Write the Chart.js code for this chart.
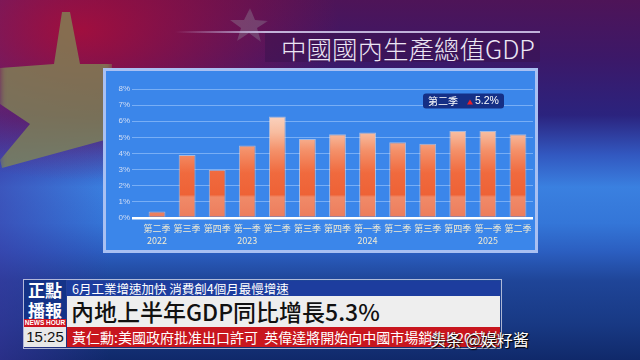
<!DOCTYPE html>
<html>
<head>
<meta charset="utf-8">
<script src="https://cdn.jsdelivr.net/npm/chart.js@4/dist/chart.umd.min.js"></script>
<style>
  html, body { margin:0; padding:0; }
  body {
    width:640px; height:360px; overflow:hidden; position:relative;
    font-family:"Noto Sans CJK TC","Noto Sans",sans-serif;
    background:
      radial-gradient(ellipse 260px 150px at 80px 30px, rgba(165,14,60,0.95), rgba(165,14,60,0) 100%),
      linear-gradient(90deg, rgba(62,52,160,0.55) 0px, rgba(62,52,160,0) 110px),
      linear-gradient(180deg, #4e1458 0%, #3c1868 16%, #2b237e 32%, #3258c0 43%, #3a80e0 52%, #3476d8 62%, #2b5ec0 70%, #1f4598 78%, #183984 90%, #10296a 100%);
  }
  .abs { position:absolute; }
  #star {
    left:0; top:0; width:112px; height:190px;
    background: rgba(128,136,84,0.78);
    clip-path: polygon(62px 12px, 70px 12px, 80px 64px, 112px 64px, 112px 138px, 2px 168px, 0px 160px, 30px 124px, 0px 104px, 0px 68px, 54px 64px);
    filter: blur(3px);
  }
  #star2 {
    left:228px; top:8px; width:40px; height:34px;
    background: rgba(150,150,160,0.35);
    clip-path: polygon(22px 0px, 27px 12px, 40px 13px, 29px 20px, 33px 34px, 21px 25px, 9px 33px, 13px 20px, 2px 12px, 16px 12px);
    filter: blur(2px);
  }
  #titleLine {
    left:175px; top:31px; width:365px; height:2px;
    background: linear-gradient(90deg, rgba(200,190,225,0) 0px, rgba(205,195,230,0.9) 90px, rgba(205,195,230,0.9) 100%);
  }
  #titleBox {
    left:265px; top:33px; width:275px; height:29px;
    background: rgba(58,18,78,0.5);
  }
  #title {
    left:281px; top:33px; font-size:25.5px; line-height:29px; color:#ece6f4;
    font-weight:300; white-space:nowrap; letter-spacing:0px;
  }
  #panel {
    left:103px; top:68px; width:429px; height:179px;
    border:3px solid #a9c0f2; background:#3b86ea;
  }
  #panel canvas { display:block; }
  #logo1 { left:24px; top:280px; width:42px; height:20px; background:#143388; color:#fff; font-weight:700; font-size:17px; line-height:20px; text-align:center; }
  #logo2 { left:24px; top:300px; width:42px; height:19px; background:#143388; color:#fff; font-weight:700; font-size:17px; line-height:19px; text-align:center; }
  #logo3 { left:24px; top:319px; width:42px; height:8px; background:#cf1420; color:#fff; font-family:"Liberation Sans",sans-serif; font-weight:700; font-size:6.5px; line-height:8px; text-align:center; white-space:nowrap; }
  #clock { left:24px; top:327px; width:42px; height:20px; background:#e8e8e8; color:#111; font-family:"Liberation Sans",sans-serif; font-size:15px; line-height:20px; text-align:center; }
  #bar1 { left:67px; top:281px; width:433px; height:15px; background:#1d3d9e; color:#fff; font-size:12.5px; line-height:15px; padding-left:5px; box-sizing:border-box; white-space:nowrap; overflow:hidden; }
  #bar2 { left:67px; top:296px; width:433px; height:31px; background:#eeeeee; color:#111; font-size:23px; line-height:31px; padding-left:4px; box-sizing:border-box; white-space:nowrap; overflow:hidden; font-weight:500; }
  #bar3 { left:67px; top:327px; width:433px; height:20px; background:#c8161e; color:#fff; font-size:14px; line-height:20px; padding-left:5px; box-sizing:border-box; white-space:nowrap; overflow:hidden; }
  #frame { left:23px; top:279px; width:477px; height:68px; border:1px solid rgba(235,235,245,0.7); }
  #wm { left:430px; top:329px; color:#fff; font-family:"Noto Sans CJK SC",sans-serif; font-size:16px; line-height:20px; text-shadow:0 0 2px #000, 1px 1px 1px #000; white-space:nowrap; }
</style>
</head>
<body>
<div id="star" class="abs"></div>
<div id="star2" class="abs"></div>
<div id="titleBox" class="abs"></div>
<div id="titleLine" class="abs"></div>
<div id="title" class="abs">中國國內生產總值GDP</div>
<div id="panel" class="abs"><canvas id="c" width="429" height="179"></canvas></div>

<div id="frame" class="abs"></div>
<div id="logo1" class="abs">正點</div>
<div id="logo2" class="abs">播報</div>
<div id="logo3" class="abs">NEWS HOUR</div>
<div id="clock" class="abs">15:25</div>
<div id="bar1" class="abs">6月工業增速加快 消費創4個月最慢增速</div>
<div id="bar2" class="abs">內地上半年GDP同比增長5.3%</div>
<div id="bar3" class="abs">黃仁勳:美國政府批准出口許可&nbsp; 英偉達將開始向中國市場銷售H20芯片</div>
<div id="wm" class="abs">头条 @娱籽酱</div>

<script>
// ---- data ----
const quarters = ['第二季','第三季','第四季','第一季','第二季','第三季','第四季','第一季','第二季','第三季','第四季','第一季','第二季'];
const years    = ['2022','','','2023','','','','2024','','','','2025',''];
const gdpGrowth = [0.4, 3.9, 3.0, 4.5, 6.3, 4.9, 5.2, 5.3, 4.7, 4.6, 5.4, 5.4, 5.2];
const yTickValues = [0, 1, 2, 3, 4, 5, 6, 7, 8];
const highlightLabel = quarters[quarters.length - 1];
const highlightValue = gdpGrowth[gdpGrowth.length - 1];

const labels = quarters.map((q, i) => [q, years[i]]);

function barFill(context) {
  const chart = context.chart;
  const area = chart.chartArea;
  if (!area || !chart.scales.y) return '#f06a40';
  const y = chart.scales.y;
  const top = y.getPixelForValue(6.5), bot = y.getPixelForValue(0);
  const g = chart.ctx.createLinearGradient(0, top, 0, bot);
  const f = v => (6.5 - v) / 6.5;
  g.addColorStop(f(6.5), '#fbd6c4');
  g.addColorStop(f(5.3), '#f8bc9f');
  g.addColorStop(f(4.2), '#f4916a');
  g.addColorStop(f(2.8), '#f06a3e');
  g.addColorStop(f(1.45), '#ee6236');
  g.addColorStop(f(1.3), '#f08a68');
  g.addColorStop(f(0), '#ec7c5c');
  return g;
}

const annotationPlugin = {
  id: 'quarterBadge',
  afterDraw(chart) {
    const ctx = chart.ctx;
    ctx.save();
    const x = 317, y = 22.5, w = 81, h = 15, r = 3;
    ctx.fillStyle = '#152f86';
    ctx.beginPath();
    ctx.roundRect(x, y, w, h, r);
    ctx.fill();
    ctx.fillStyle = '#ffffff';
    ctx.textBaseline = 'middle';
    ctx.font = '10px "Noto Sans CJK TC"';
    ctx.fillText(highlightLabel, 322, y + h / 2 + 0.5);
    ctx.fillStyle = '#e8202a';
    ctx.beginPath();
    ctx.moveTo(364, 28.5); ctx.lineTo(367, 33.5); ctx.lineTo(361, 33.5); ctx.closePath();
    ctx.fill();
    ctx.fillStyle = '#ffffff';
    ctx.font = '10.5px "Liberation Sans"';
    ctx.fillText(highlightValue.toFixed(1) + '%', 369, y + h / 2 + 0.5);
    ctx.restore();
  }
};

new Chart(document.getElementById('c'), {
  type: 'bar',
  data: {
    labels: labels,
    datasets: [{
      data: gdpGrowth,
      backgroundColor: barFill,
      borderColor: 'rgba(255,228,214,0.55)',
      borderWidth: 1,
      borderSkipped: 'bottom',
      categoryPercentage: 1,
      barPercentage: 0.56
    }]
  },
  options: {
    responsive: false,
    devicePixelRatio: 1,
    animation: false,
    layout: { padding: { top: 18, right: 2, left: 0, bottom: 0 } },
    plugins: { legend: { display: false }, tooltip: { enabled: false } },
    scales: {
      y: {
        min: 0, max: 8,
        afterBuildTicks: s => { s.ticks = yTickValues.map(v => ({ value: v })); },
        afterFit: s => { s.width = 36; },
        border: { display: false },
        grid: {
          color: c => (c.tick && c.tick.value === 0) ? '#ffffff' : '#78aef5',
          lineWidth: c => (c.tick && c.tick.value === 0) ? 2.5 : 1,
          drawTicks: true,
          tickLength: 10,
          tickColor: c => (c.tick && c.tick.value === 0) ? '#ffffff' : '#78aef5'
        },
        ticks: {
          color: '#d3def4',
          padding: 2,
          font: { family: 'Liberation Sans', size: 8 },
          callback: v => v + '%'
        }
      },
      x: {
        afterFit: s => { s.height = 32; },
        border: { display: false },
        grid: { display: false },
        ticks: {
          color: '#f2ebd2',
          padding: -4,
          autoSkip: false,
          maxRotation: 0,
          font: { family: 'Noto Sans CJK TC', size: 9, lineHeight: 1.4 }
        }
      }
    }
  },
  plugins: [annotationPlugin]
});
</script>
</body>
</html>
